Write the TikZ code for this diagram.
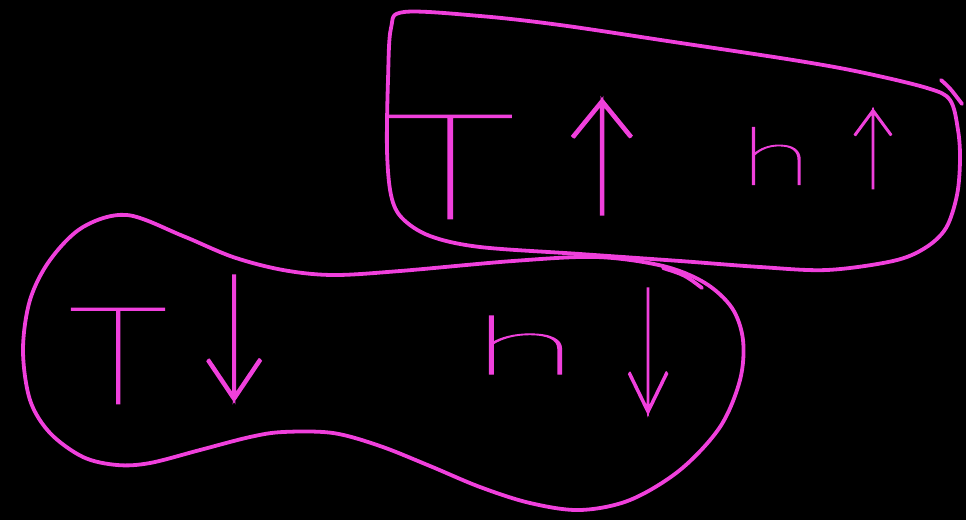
\documentclass[tikz,border=0pt]{standalone}
\usepackage{fontspec}
\usepackage{graphicx}
\IfFontExistsTF{Lato Thin}{\def\handname{Lato Thin}}{%
 \IfFontExistsTF{DejaVu Sans ExtraLight}{\def\handname{DejaVu Sans ExtraLight}}{%
  \IfFontExistsTF{Lato Hairline}{\def\handname{Lato Hairline}}{%
    \def\handname{DejaVu Sans}}}}
\newfontfamily\hand{\handname}[FakeBold=1.3]
\newfontfamily\handA{\handname}[FakeBold=3]
\newfontfamily\handfb{DejaVu Sans}
\newcommand\handglyph[1]{{\hand #1}}
\newcommand\handarrow[1]{{\handA\iffontchar\font`#1 #1\else{\handfb #1}\fi}}
\definecolor{pinkink}{RGB}{240,64,220}
\begin{document}
\begin{tikzpicture}[x=1pt,y=-1pt,
  ink/.style={draw=pinkink, line width=3.8pt, line cap=round, line join=round},
  glyph/.style={text=pinkink, inner sep=0pt, outer sep=0pt, anchor=center}]
\fill[black] (0,0) rectangle (966,520);
\useasboundingbox (0,0) rectangle (966,520);
% upper group outline
\draw[ink] plot[smooth cycle, tension=0.55] coordinates {
 (404,12) (480,16) (560,25) (674,42) (793,60) (860,72) (927,88) (950,100)
 (958,130) (960,160) (957,195) (946,228) (925,248) (893,261) (827,270)
 (760,267) (680,261) (580,254) (480,247) (430,236) (402,218) (391,195)
 (387,150) (388,80) (391,28)};
\draw[ink] (941,80) .. controls (950,88) .. (962,104);
% lower group outline
\draw[ink] plot[smooth cycle, tension=0.55] coordinates {
 (127,215) (183,236) (233,257) (283,270) (333,275) (400,271) (513,261)
 (597,257) (663,266) (705,283) (732,308) (743,340) (740,380) (720,427)
 (680,470) (630,500) (580,510) (530,503) (480,487) (430,466) (380,446)
 (333,433) (283,432) (250,437) (200,450) (150,463) (117,465) (83,457)
 (50,433) (30,400) (23,350) (30,300) (50,260) (83,227)};
\draw[ink] (663,268) .. controls (685,275) .. (702,288);
% upper labels
\node[glyph] (tT)   at (450,167) {\resizebox*{127pt}{103pt}{\handglyph{T}}};
\node[glyph] (tUp1) at (602,157) {\resizebox*{80pt}{113pt}{\handarrow{↑}}};
\node[glyph] (th)   at (776,156) {\resizebox*{70pt}{57pt}{\handglyph{h}}};
\node[glyph] (tUp2) at (873,149) {\resizebox*{50pt}{78pt}{\handarrow{↑}}};
% lower labels
\node[glyph] (bT)   at (118,356) {\resizebox*{97pt}{95pt}{\handglyph{T}}};
\node[glyph] (bDn1) at (234,338) {\resizebox*{72pt}{123pt}{\handarrow{↓}}};
\node[glyph] (bh)   at (525,345) {\resizebox*{105pt}{58pt}{\handglyph{h}}};
\node[glyph] (bDn2) at (648,351) {\resizebox*{52pt}{123pt}{\handarrow{↓}}};
\end{tikzpicture}
\end{document}
